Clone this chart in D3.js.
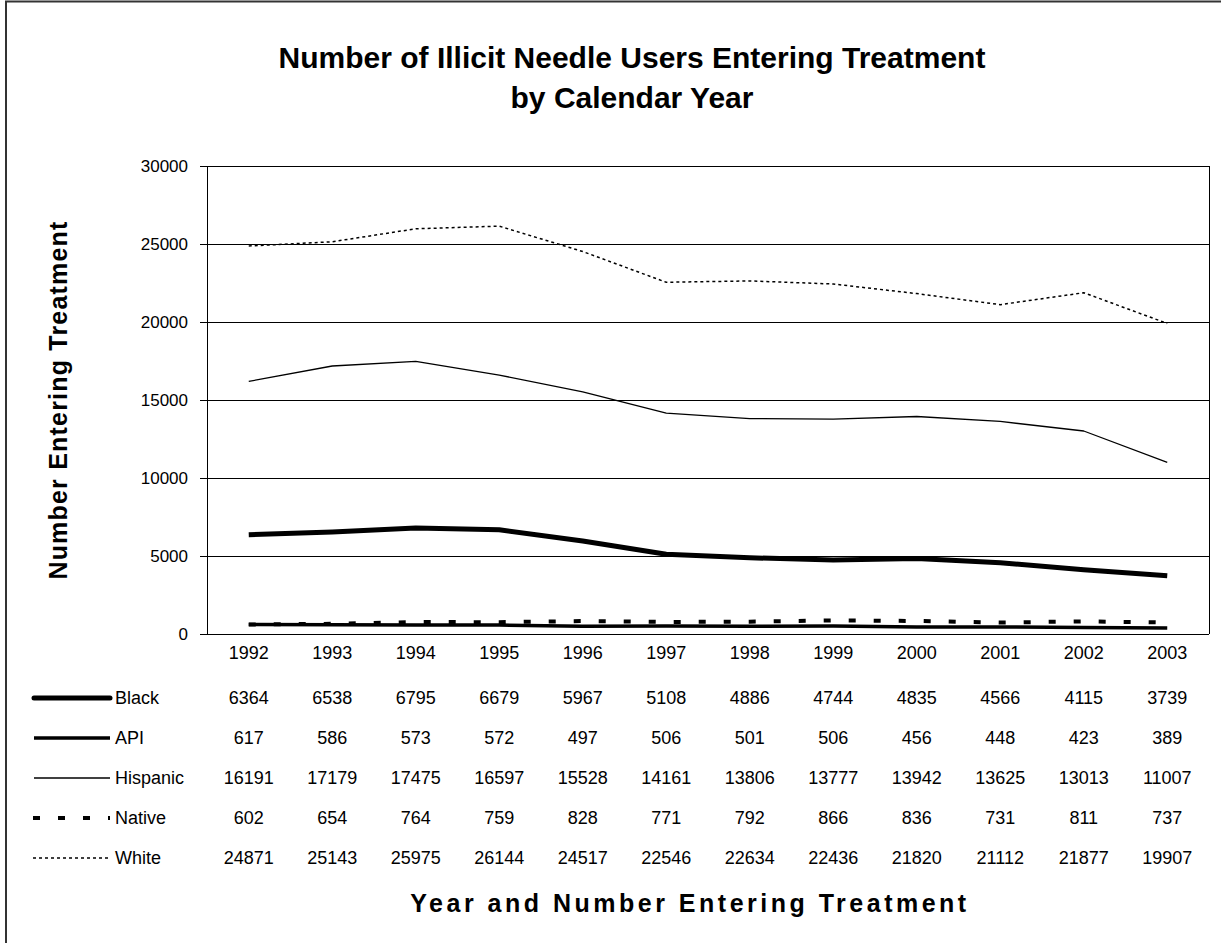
<!DOCTYPE html>
<html>
<head>
<meta charset="utf-8">
<script src="https://cdn.jsdelivr.net/npm/d3@7/dist/d3.min.js"></script>
<style>
body{margin:0;background:#fff;}
text{font-family:'Liberation Sans',Arial,sans-serif;fill:#000;}
</style>
</head>
<body>
<script>
var years=['1992','1993','1994','1995','1996','1997','1998','1999','2000','2001','2002','2003'];
var black=[6364,6538,6795,6679,5967,5108,4886,4744,4835,4566,4115,3739];
var api=[617,586,573,572,497,506,501,506,456,448,423,389];
var hispanic=[16191,17179,17475,16597,15528,14161,13806,13777,13942,13625,13013,11007];
var native=[602,654,764,759,828,771,792,866,836,731,811,737];
var white=[24871,25143,25975,26144,24517,22546,22634,22436,21820,21112,21877,19907];
var seriesNames=['Black','API','Hispanic','Native','White'];
var yTicks=[0,5000,10000,15000,20000,25000,30000];

var width=1221;
var height=943;
var plotLeft=207, plotRight=1209, plotTop=166, plotBottom=634;

var svg=d3.select('body')
.append('svg')
.attr('width',width)
.attr('height',height);

// outer frame (only left and top edges show)
svg.append('path')
.attr('d','M6,943V1.5H1221')
.style('fill','none')
.style('stroke','#333')
.style('stroke-width',2);

var xScale=d3.scaleBand()
.domain(years)
.range([plotLeft,plotRight]);

var yScale=d3.scaleLinear()
.domain([0,30000])
.range([plotBottom,plotTop]);

var series=[
  {name:seriesNames[0],values:black,width:5,dash:null},
  {name:seriesNames[1],values:api,width:3.5,dash:null},
  {name:seriesNames[2],values:hispanic,width:1.3,dash:null},
  {name:seriesNames[3],values:native,width:4,dash:'7,18'},
  {name:seriesNames[4],values:white,width:1.5,dash:'3,3'}
];

// grid lines
svg.append('g')
.attr('transform','translate('+plotLeft+',0)')
.call(d3.axisLeft(yScale).tickValues(yTicks.slice(1)).tickSize(-(plotRight-plotLeft)).tickFormat(''))
.call(g=>g.select('.domain').remove())
.selectAll('line')
.style('stroke','#000')
.style('shape-rendering','crispEdges');

var yAxis=d3.axisLeft()
.scale(yScale)
.tickValues(yTicks)
.tickFormat(d3.format('d'))
.tickSizeInner(7)
.tickSizeOuter(0)
.tickPadding(12);

svg.append('g')
.attr('id','y-axis')
.attr('transform','translate('+plotLeft+',0)')
.call(yAxis)
.call(g=>g.selectAll('path,line').style('stroke','#000').style('shape-rendering','crispEdges'))
.selectAll('text')
.style('font-size','17px')
.style('font-family','Liberation Sans, Arial, sans-serif')
.style('fill','#000');

// bottom and right edges of plot
svg.append('line')
.attr('x1',plotLeft).attr('x2',plotRight)
.attr('y1',yScale(0)).attr('y2',yScale(0))
.style('stroke','#000').style('shape-rendering','crispEdges');
svg.append('line')
.attr('x1',plotRight).attr('x2',plotRight)
.attr('y1',yScale(30000)).attr('y2',yScale(0))
.style('stroke','#000').style('shape-rendering','crispEdges');

var line=d3.line()
.x((d,i)=>xScale(years[i])+xScale.bandwidth()/2)
.y(d=>yScale(d));

svg.selectAll('.series')
.data(series)
.enter()
.append('path')
.attr('class','series')
.attr('d',d=>line(d.values))
.style('fill','none')
.style('stroke','#000')
.style('stroke-width',d=>d.width)
.style('stroke-dasharray',d=>d.dash)
.style('stroke-linejoin','round');

// data table
var rowY=[653,698,738,778,818,858];
var table=svg.append('g').attr('id','table');

table.selectAll('.year')
.data(years)
.enter()
.append('text')
.attr('class','year')
.attr('x',d=>xScale(d)+xScale.bandwidth()/2)
.attr('y',rowY[0])
.attr('dy','0.35em')
.attr('text-anchor','middle')
.style('font-size','18px')
.text(d=>d);

series.forEach(function(s,r){
  var y=rowY[r+1];
  table.append('line')
  .attr('x1',s.dash?33:34).attr('x2',110)
  .attr('y1',y).attr('y2',y)
  .style('stroke','#000')
  .style('stroke-width',s.width)
  .style('stroke-dasharray',s.dash)
  .style('stroke-linecap',s.name=='Black'?'round':'butt');
  table.append('text')
  .attr('x',115)
  .attr('y',y)
  .attr('dy','0.35em')
  .style('font-size','18px')
  .text(s.name);
  table.selectAll('.v'+r)
  .data(s.values)
  .enter()
  .append('text')
  .attr('class','v'+r)
  .attr('x',(d,i)=>xScale(years[i])+xScale.bandwidth()/2)
  .attr('y',y)
  .attr('dy','0.35em')
  .attr('text-anchor','middle')
  .style('font-size','18px')
  .text(d=>d);
});

// titles
svg.append('text')
.attr('x',632).attr('y',57)
.attr('dy','0.35em')
.attr('text-anchor','middle')
.style('font-size','30px').style('font-weight','bold')
.text('Number of Illicit Needle Users Entering Treatment');
svg.append('text')
.attr('x',632).attr('y',97)
.attr('dy','0.35em')
.attr('text-anchor','middle')
.style('font-size','30px').style('font-weight','bold')
.text('by Calendar Year');

svg.append('text')
.attr('transform','translate(58,400) rotate(-90)')
.attr('dy','0.35em')
.attr('text-anchor','middle')
.style('font-size','25px').style('font-weight','bold')
.style('letter-spacing','1.2px')
.text('Number Entering Treatment');

svg.append('text')
.attr('x',690).attr('y',903)
.attr('dy','0.35em')
.attr('text-anchor','middle')
.style('font-size','25px').style('font-weight','bold')
.style('letter-spacing','3.5px')
.text('Year and Number Entering Treatment');
</script>
</body>
</html>
